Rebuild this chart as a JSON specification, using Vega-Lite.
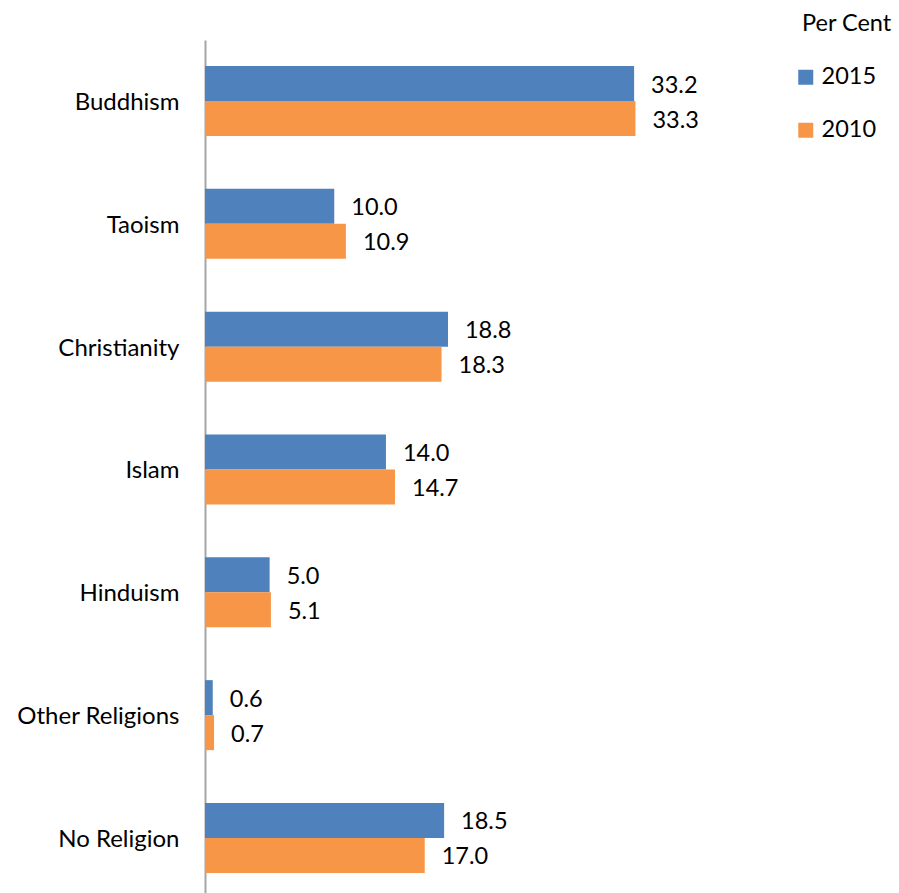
{
  "$schema": "https://vega.github.io/schema/vega-lite/v6.json",
  "width": 517,
  "height": 853,
  "autosize": {"type": "none"},
  "padding": {"left": 205, "top": 40, "right": 177, "bottom": 0},
  "background": "white",
  "config": {"view": {"stroke": null}, "font": "Lato"},
  "data": {
    "values": [
      {"religion": "Buddhism", "year": "2015", "value": 33.2},
      {"religion": "Buddhism", "year": "2010", "value": 33.3},
      {"religion": "Taoism", "year": "2015", "value": 10.0},
      {"religion": "Taoism", "year": "2010", "value": 10.9},
      {"religion": "Christianity", "year": "2015", "value": 18.8},
      {"religion": "Christianity", "year": "2010", "value": 18.3},
      {"religion": "Islam", "year": "2015", "value": 14.0},
      {"religion": "Islam", "year": "2010", "value": 14.7},
      {"religion": "Hinduism", "year": "2015", "value": 5.0},
      {"religion": "Hinduism", "year": "2010", "value": 5.1},
      {"religion": "Other Religions", "year": "2015", "value": 0.6},
      {"religion": "Other Religions", "year": "2010", "value": 0.7},
      {"religion": "No Religion", "year": "2015", "value": 18.5},
      {"religion": "No Religion", "year": "2010", "value": 17.0}
    ]
  },
  "encoding": {
    "y": {
      "field": "religion",
      "type": "nominal",
      "sort": ["Buddhism", "Taoism", "Christianity", "Islam", "Hinduism", "Other Religions", "No Religion"],
      "scale": {"paddingInner": 0.43, "paddingOuter": 0.1874, "align": 0.565},
      "axis": {
        "title": null,
        "ticks": false,
        "domainColor": "#a6a6a6",
        "domainWidth": 2,
        "labelFontSize": 24,
        "labelColor": "#000000",
        "labelPadding": 26,
        "labelOffset": 2,
        "labelFont": "Lato"
      }
    },
    "yOffset": {"field": "year", "type": "nominal", "sort": ["2015", "2010"]},
    "x": {"field": "value", "type": "quantitative", "scale": {"domain": [0, 40]}, "axis": null}
  },
  "layer": [
    {
      "mark": {"type": "bar"},
      "encoding": {
        "color": {
          "field": "year",
          "type": "nominal",
          "sort": ["2015", "2010"],
          "scale": {"domain": ["2015", "2010"], "range": ["#4F81BD", "#F79646"]},
          "legend": {
            "title": "Per Cent",
            "orient": "none",
            "legendX": 597,
            "legendY": -28,
            "padding": 0,
            "symbolType": "square",
            "symbolSize": 225,
            "symbolStrokeWidth": 0,
            "symbolOpacity": 1,
            "symbolOffset": -8,
            "labelFontSize": 23.5,
            "labelColor": "#000000",
            "labelOffset": 4,
            "rowPadding": 28,
            "titleFontSize": 23.5,
            "titleFontWeight": "normal",
            "titleColor": "#000000",
            "titlePadding": 30
          }
        }
      }
    },
    {
      "mark": {"type": "text", "align": "left", "baseline": "middle", "dx": 17, "dy": 2, "fontSize": 23.5, "color": "#000000"},
      "encoding": {"text": {"field": "value", "type": "quantitative", "format": ".1f"}}
    }
  ]
}
